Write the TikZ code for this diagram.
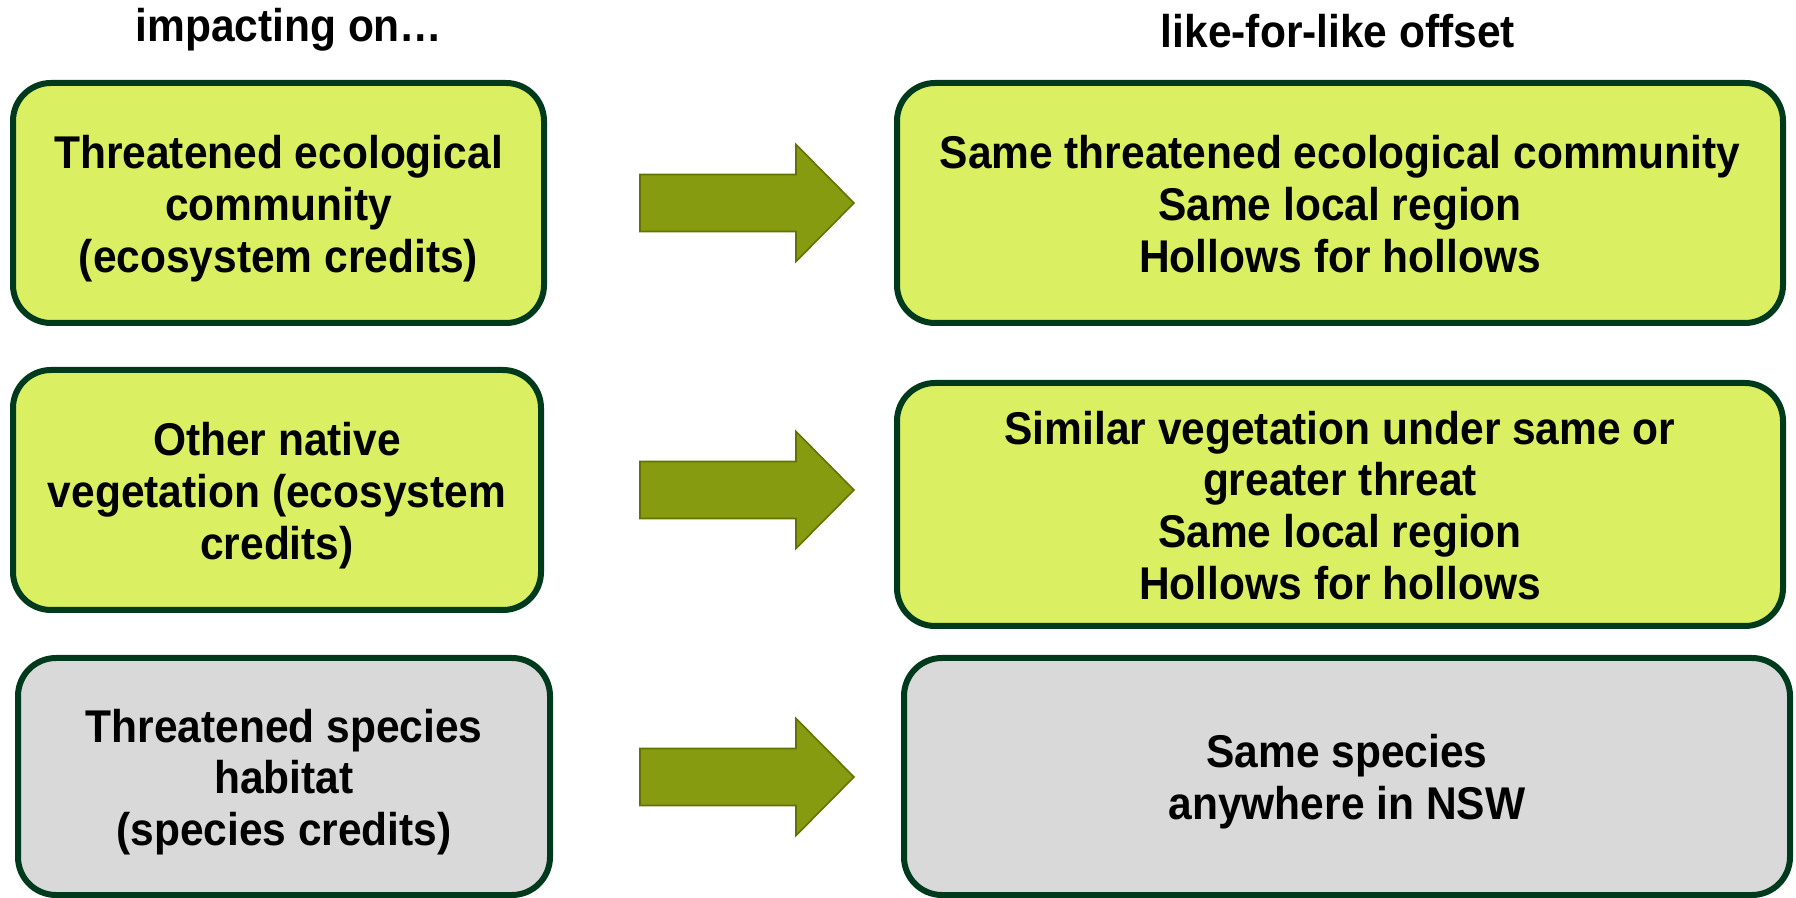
\documentclass[tikz,border=0pt]{standalone}
\usepackage{fontspec}
\usepackage{graphicx}
\setmainfont{Liberation Sans}
\definecolor{limefill}{RGB}{219,239,99}
\definecolor{grayfill}{RGB}{217,217,217}
\definecolor{boxline}{RGB}{0,58,28}
\definecolor{arrowfill}{RGB}{135,155,17}
\definecolor{arrowline}{RGB}{100,115,0}
\newcommand{\talltext}[1]{\scalebox{1}[1.08]{\begin{tabular}{@{}c@{}}#1\end{tabular}}}
\tikzset{
  box/.style={draw=boxline, line width=3pt, rounded corners=19pt, inner sep=0pt},
  limebox/.style={box, fill=limefill},
  graybox/.style={box, fill=grayfill},
  boxtext/.style={font=\fontsize{21.25pt}{24pt}\selectfont\bfseries, inner sep=0pt},
  header/.style={font=\fontsize{21.25pt}{24pt}\selectfont\bfseries, inner sep=0pt},
  blockarrow/.style={fill=arrowfill, draw=arrowline, line width=0.8pt, line join=miter}
}
\begin{document}
\begin{tikzpicture}[x=0.5pt,y=-0.5pt]
\useasboundingbox (0,0) rectangle (1796,898);
% headers
\node[header] (h1) at (289,31) {\talltext{impacting on…}};
\node[header] (h2) at (1338,37) {\talltext{like-for-like offset}};
% left boxes
\node[limebox, minimum width=265.5pt, minimum height=120pt] (L1) at (278.5,203) {};
\node[limebox, minimum width=264pt, minimum height=120pt] (L2) at (277,490) {};
\node[graybox, minimum width=266pt, minimum height=118.5pt] (L3) at (284,776.5) {};
% right boxes
\node[limebox, minimum width=443pt, minimum height=120pt] (R1) at (1340,203) {};
\node[limebox, minimum width=443pt, minimum height=121.5pt] (R2) at (1340,504.5) {};
\node[graybox, minimum width=443pt, minimum height=118.5pt] (R3) at (1347,776.5) {};
% box texts
\node[boxtext] (L1t) at ([yshift=-3.5pt]L1.center)
  {\talltext{Threatened ecological\\community\\(ecosystem credits)}};
\node[boxtext] (L2t) at ([yshift=-3.5pt]L2.center)
  {\talltext{Other native\\vegetation (ecosystem\\credits)}};
\node[boxtext] (L3t) at ([yshift=-3.5pt]L3.center)
  {\talltext{Threatened species\\habitat\\(species credits)}};
\node[boxtext] (R1t) at ([yshift=-3.5pt]R1.center)
  {\talltext{Same threatened ecological community\\Same local region\\Hollows for hollows}};
\node[boxtext] (R2t) at ([yshift=-3.5pt]R2.center)
  {\talltext{Similar vegetation under same or\\greater threat\\Same local region\\Hollows for hollows}};
\node[boxtext] (R3t) at ([yshift=-3.5pt]R3.center)
  {\talltext{Same species\\anywhere in NSW}};
% arrows
\coordinate (a1) at (747,203);
\coordinate (a2) at (747,490);
\coordinate (a3) at (747,777);
\foreach \c in {a1,a2,a3}{
  \draw[blockarrow, shift={(\c)}] (-107,-28.5) -- (49,-28.5) -- (49,-58.5) -- (107,0)
    -- (49,58.5) -- (49,28.5) -- (-107,28.5) -- cycle;
}
\end{tikzpicture}
\end{document}
